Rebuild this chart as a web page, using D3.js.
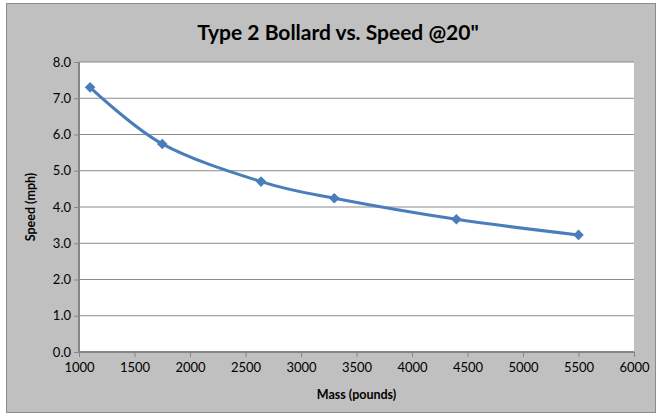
<!DOCTYPE html>
<html>
<head>
<meta charset="utf-8">
<script src="https://cdn.jsdelivr.net/npm/d3@7"></script>
<style>
  body { margin: 0; background: #fff; }
  text { font-family: Lato, "Open Sans", sans-serif; fill: #000; }
</style>
</head>
<body>
<svg></svg>
<script>
// data
let massPounds = [1100, 1750, 2640, 3300, 4400, 5500];
let speedMph = [7.3, 5.74, 4.7, 4.24, 3.66, 3.23];
let xTicks = [1000, 1500, 2000, 2500, 3000, 3500, 4000, 4500, 5000, 5500, 6000];
let yTicks = [0, 1, 2, 3, 4, 5, 6, 7, 8];

var svgWidth = 661, svgHeight = 417;
var margin = {left: 79, top: 62, right: 27, bottom: 65};
var plotW = svgWidth - margin.left - margin.right;
var plotH = svgHeight - margin.top - margin.bottom;

var svg = d3.select('svg')
            .attr("width", svgWidth)
            .attr("height", svgHeight);

// gray chart area with frame
svg.append("rect")
   .attr("x", 6.5).attr("y", 3.5)
   .attr("width", 649).attr("height", 409)
   .attr("fill", "#c0c0c0")
   .attr("stroke", "#8c8c8c")
   .attr("stroke-width", 1);

var xScale = d3.scaleLinear()
               .domain([1000, 6000])
               .range([margin.left, margin.left + plotW]);
var yScale = d3.scaleLinear()
               .domain([0, 8])
               .range([margin.top + plotH, margin.top]);

// white plot area
svg.append("rect")
   .attr("x", margin.left).attr("y", margin.top)
   .attr("width", plotW).attr("height", plotH)
   .attr("fill", "#fff");

// horizontal gridlines
svg.append("g")
   .selectAll("line")
   .data(yTicks.slice(1))
   .enter()
   .append("line")
   .attr("x1", margin.left).attr("x2", margin.left + plotW)
   .attr("y1", d => yScale(d)).attr("y2", d => yScale(d))
   .attr("stroke", "#8a8a8a")
   .attr("stroke-width", 1.2);

// axes
var xAxis = svg.append("g")
   .attr("transform", `translate(0,${margin.top + plotH})`)
   .call(d3.axisBottom(xScale).tickValues(xTicks).tickSize(5).tickPadding(6).tickFormat(d3.format("d")));
var yAxis = svg.append("g")
   .attr("transform", `translate(${margin.left},0)`)
   .call(d3.axisLeft(yScale).tickValues(yTicks).tickSize(5).tickPadding(3).tickFormat(d3.format(".1f")));

[xAxis, yAxis].forEach(a => {
  a.select(".domain").attr("stroke", "#868686").attr("stroke-width", 2);
  a.selectAll(".tick line").attr("stroke", "#868686").attr("stroke-width", 1);
  a.selectAll(".tick text").attr("font-size", 13).attr("font-family", "Lato, sans-serif").attr("fill", "#000");
});
xAxis.select(".domain").attr("d", `M${margin.left},0H${margin.left + plotW}`);
yAxis.select(".domain").attr("d", `M0,${margin.top + plotH}V${margin.top}`);

// smoothed series line (Excel-style smoothing)
var pts = massPounds.map((m, i) => [m, speedMph[i]]);
var line = d3.line()
             .x(d => xScale(d[0]))
             .y(d => yScale(d[1]))
             .curve(d3.curveCatmullRom.alpha(0));

svg.append("path")
   .datum(pts)
   .attr("d", line)
   .attr("fill", "none")
   .attr("stroke", "#4a7ebb")
   .attr("stroke-width", 3);

// diamond markers (square turned 45 degrees)
svg.selectAll(".marker")
   .data(pts)
   .enter()
   .append("path")
   .attr("class", "marker")
   .attr("d", d3.symbol().type(d3.symbolSquare).size(56))
   .attr("transform", d => `translate(${xScale(d[0])},${yScale(d[1])}) rotate(45)`)
   .attr("fill", "#4a7ebb");

// titles
svg.append("text")
   .text('Type 2 Bollard vs. Speed @20"')
   .attr("x", 338).attr("y", 40)
   .attr("text-anchor", "middle")
   .attr("font-size", 21)
   .attr("font-weight", "bold");

svg.append("text")
   .text("Mass (pounds)")
   .attr("x", xScale(3500)).attr("y", 399)
   .attr("text-anchor", "middle")
   .attr("font-size", 12.5)
   .attr("font-weight", "bold");

svg.append("text")
   .text("Speed (mph)")
   .attr("transform", `translate(35,${yScale(4)}) rotate(-90)`)
   .attr("text-anchor", "middle")
   .attr("font-size", 12.5)
   .attr("font-weight", "bold");
</script>
</body>
</html>
